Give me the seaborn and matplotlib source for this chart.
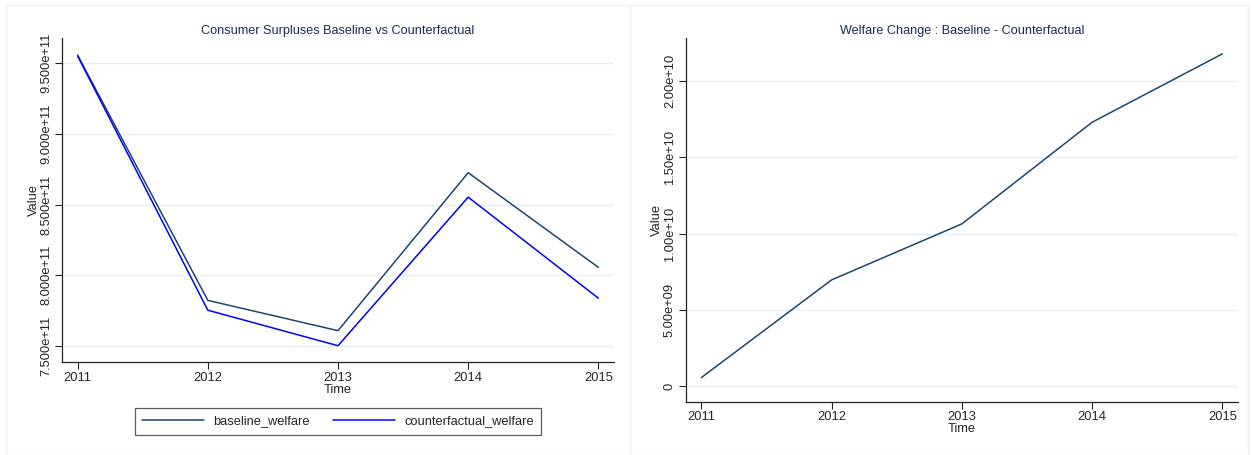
import numpy as np
import pandas as pd
import matplotlib
matplotlib.use("Agg")
import matplotlib.pyplot as plt
import seaborn as sns
from matplotlib.ticker import FuncFormatter, FixedLocator
from matplotlib.patches import Rectangle
from matplotlib.lines import Line2D

# Yearly welfare series
years = [2011, 2012, 2013, 2014, 2015]
counterfactual_welfare = [9.550e11, 7.753e11, 7.502e11, 8.552e11, 7.838e11]
welfare_change = [5.7e8, 6.97e9, 1.064e10, 1.730e10, 2.178e10]
baseline_welfare = [c + d for c, d in zip(counterfactual_welfare, welfare_change)]

left_yticks = [7.5e11, 8.0e11, 8.5e11, 9.0e11, 9.5e11]
right_yticks = [0, 5e9, 1e10, 1.5e10, 2e10]

sns.set_style("white")
plt.rcParams["font.family"] = ["Liberation Sans", "DejaVu Sans"]

NAVY = "#1a476f"
BLUE = "#0000ff"
GRID = "#e8eff2"
TITLE = "#1e2b52"
FS = 9.3

fig = plt.figure(figsize=(12.52, 4.55), dpi=100)
fig.patch.set_facecolor("white")

# faint panel frames
for x0, w in [(6 / 1252, 624 / 1252), (630 / 1252, 618 / 1252)]:
    fig.patches.append(Rectangle((x0, 0.0), w, 1 - 4.5 / 455, transform=fig.transFigure,
                                 fill=False, edgecolor="#eef3f5", linewidth=1.0))

ax1 = fig.add_axes([62 / 1252, 1 - 362 / 455, (614 - 62) / 1252, (362 - 38) / 455])
ax2 = fig.add_axes([685.7 / 1252, 1 - 401.7 / 455, (1238 - 685.7) / 1252, (401.7 - 38) / 455])

df = pd.DataFrame({
    "Time": years * 2,
    "Value": baseline_welfare + counterfactual_welfare,
    "series": ["baseline_welfare"] * 5 + ["counterfactual_welfare"] * 5,
})
sns.lineplot(data=df, x="Time", y="Value", hue="series",
             palette={"baseline_welfare": NAVY, "counterfactual_welfare": BLUE},
             linewidth=1.1, ax=ax1, legend=False)

diff_df = pd.DataFrame({"Time": years, "Value": welfare_change})
sns.lineplot(data=diff_df, x="Time", y="Value", color=NAVY, linewidth=1.1, ax=ax2)

def style(ax, yticks, fmt, ylim, title):
    ax.set_xlim(2010.88, 2015.12)
    ax.set_ylim(*ylim)
    ax.yaxis.set_major_locator(FixedLocator(yticks))
    ax.yaxis.set_major_formatter(FuncFormatter(fmt))
    ax.set_xticks(years)
    ax.set_xticklabels([str(y) for y in years])
    for t in yticks:
        ax.axhline(t, color=GRID, linewidth=1.0, zorder=0)
    for s in ["top", "right"]:
        ax.spines[s].set_visible(False)
    for s in ["left", "bottom"]:
        ax.spines[s].set_color("#222222")
        ax.spines[s].set_linewidth(0.9)
    ax.tick_params(axis="both", direction="out", length=5, width=0.8, color="#222222",
                   labelsize=FS, pad=2, left=True, bottom=True)
    for lab in ax.get_yticklabels():
        lab.set_rotation(90)
        lab.set_va("center")
    ax.set_xlabel("Time", fontsize=FS, labelpad=0)
    ax.set_ylabel("Value", fontsize=FS, labelpad=0.5)
    ax.set_title(title, fontsize=9.1, color=TITLE, pad=3)

style(ax1, left_yticks, lambda v, p: f"{v:.3e}", (7.387e11, 9.677e11),
      "Consumer Surpluses Baseline vs Counterfactual")
style(ax2, right_yticks, lambda v, p: "0" if v == 0 else f"{v:.2e}", (-1.01e9, 2.282e10),
      "Welfare Change : Baseline - Counterfactual")

handles = [Line2D([], [], color=NAVY, linewidth=1.1), Line2D([], [], color=BLUE, linewidth=1.1)]
leg = ax1.legend(handles, ["baseline_welfare", "counterfactual_welfare"], ncol=2,
                 loc="center", bbox_to_anchor=(338 / 1252, 1 - 421.5 / 455),
                 bbox_transform=fig.transFigure, fontsize=FS, frameon=True,
                 fancybox=False, handlelength=4.8, columnspacing=1.8, handletextpad=0.7,
                 borderpad=0.6, borderaxespad=0)
leg.get_frame().set_edgecolor("#333333")
leg.get_frame().set_linewidth(0.9)

fig.savefig("out.png", dpi=100, facecolor="white")
